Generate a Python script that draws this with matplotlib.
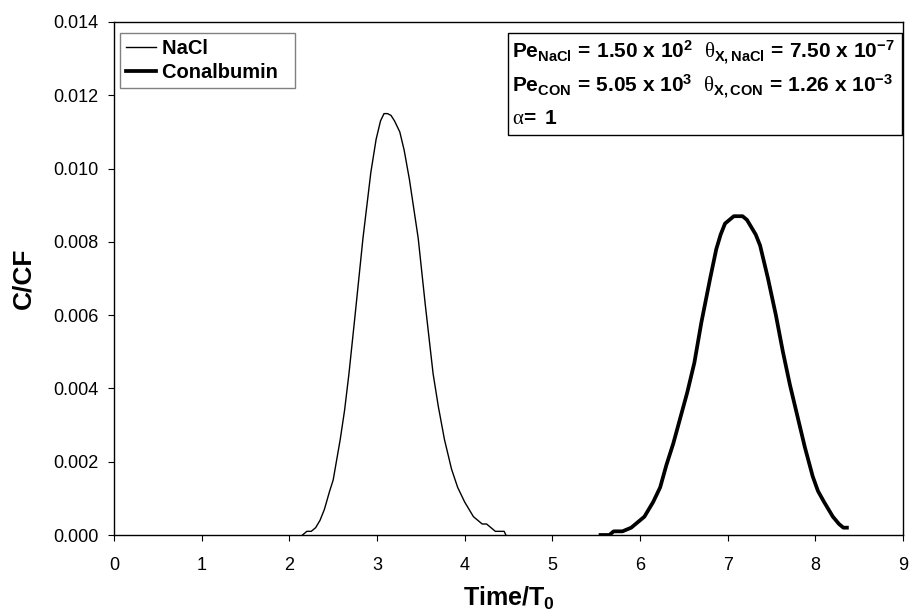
import matplotlib
matplotlib.use("Agg")
import matplotlib.pyplot as plt
from matplotlib.patches import Rectangle
from matplotlib.ticker import FormatStrFormatter, MultipleLocator

plt.rcParams['font.family'] = ['Liberation Sans', 'DejaVu Sans']
plt.rcParams['mathtext.fontset'] = 'custom'
plt.rcParams['mathtext.bf'] = 'Liberation Sans:bold'
plt.rcParams['mathtext.rm'] = 'Liberation Serif'
plt.rcParams['mathtext.it'] = 'Liberation Sans:italic'

# NaCl series
nacl_t = [2.15, 2.20, 2.25, 2.30, 2.35, 2.40, 2.46, 2.50, 2.58, 2.63, 2.68, 2.75,
          2.84, 2.93, 2.99, 3.04, 3.08, 3.12, 3.16, 3.20, 3.26, 3.31, 3.37, 3.42,
          3.47, 3.55, 3.64, 3.70, 3.77, 3.85, 3.92, 4.00, 4.05, 4.10, 4.15, 4.20,
          4.25, 4.30, 4.35, 4.40, 4.45, 4.47]
nacl_c = [0.0000, 0.0001, 0.0001, 0.0002, 0.0004, 0.0007, 0.0012, 0.0015, 0.0026, 0.0034,
          0.0044, 0.0060, 0.0081, 0.0099, 0.0108, 0.0113, 0.0115, 0.0115, 0.01145, 0.0113,
          0.0110, 0.0105, 0.0097, 0.0089, 0.0081, 0.0063, 0.0044, 0.0035, 0.0026, 0.0018,
          0.0013, 0.0009, 0.0007, 0.0005, 0.0004, 0.0003, 0.0003, 0.0002, 0.0001, 0.0001,
          0.0001, 0.0000]

# Conalbumin series
con_t = [5.55, 5.65, 5.70, 5.80, 5.90, 6.00, 6.05, 6.10, 6.15, 6.23, 6.30, 6.38,
         6.46, 6.54, 6.62, 6.70, 6.80, 6.87, 6.92, 6.97, 7.02, 7.07, 7.12, 7.17,
         7.22, 7.27, 7.32, 7.37, 7.46, 7.55, 7.63, 7.71, 7.79, 7.88, 7.97, 8.03,
         8.10, 8.20, 8.27, 8.32, 8.36]
con_c = [0.0000, 0.0000, 0.0001, 0.0001, 0.0002, 0.0004, 0.0005, 0.0007, 0.0009, 0.0013,
         0.0019, 0.0025, 0.0032, 0.0039, 0.0047, 0.0058, 0.0070, 0.0078, 0.0082, 0.0085,
         0.0086, 0.0087, 0.0087, 0.0087, 0.0086, 0.0084, 0.0082, 0.0079, 0.0070, 0.0060,
         0.0050, 0.0041, 0.0033, 0.0024, 0.0016, 0.0012, 0.0009, 0.0005, 0.0003, 0.0002,
         0.0002]

x_ticks = list(range(0, 10))

fig = plt.figure(figsize=(9.11, 6.15), dpi=100)
ax = fig.add_axes([114 / 911, 1 - 535 / 615, 789 / 911, 513 / 615])

ax.plot(nacl_t, nacl_c, color='black', linewidth=1.0, label='NaCl  ')
ax.plot(con_t, con_c, color='black', linewidth=2.7, label='Conalbumin  ')

ax.set_xlim(0, 9)
ax.set_ylim(0, 0.014)
ax.set_xticks(x_ticks)
ax.yaxis.set_major_locator(MultipleLocator(0.002))
ax.yaxis.set_major_formatter(FormatStrFormatter('%.3f'))
ax.tick_params(direction='out', length=4.5, width=0.8, labelsize=13, colors='black')
ax.tick_params(axis='x', pad=11)
ax.tick_params(axis='y', pad=6.5)
ax.tick_params(top=False, right=False)
for s in ax.spines.values():
    s.set_linewidth(1.0)
    s.set_color('black')

ax.set_xlabel(r'Time/T$_\mathbf{0}$', fontsize=18, fontweight='bold', labelpad=8)
ax.set_ylabel('C/CF', fontsize=19, fontweight='bold', labelpad=13)

leg = ax.legend(loc='upper left', bbox_to_anchor=(0.0076, 0.9786), fancybox=False,
                edgecolor='#808080', framealpha=1, borderaxespad=0,
                prop={'weight': 'bold', 'size': 14.5}, handlelength=1.5,
                handletextpad=0.3, borderpad=0.3, labelspacing=0.25)
leg.get_frame().set_linewidth(1.0)

# Parameter box
ax.add_patch(Rectangle((0.4994, 0.780), 0.4993, 0.9786 - 0.780, transform=ax.transAxes,
                       facecolor='white', edgecolor='black', linewidth=1.0, zorder=5))
lines = [
    r'$\mathbf{Pe_{NaCl}\,=\,1.50\ x\ 10^{2}}\ \ \mathrm{\theta}_\mathbf{X,NaCl}\mathbf{\,=\,7.50\ x\ 10^{-7}}$',
    r'$\mathbf{Pe_{CON}\,=\,5.05\ x\ 10^{3}}\ \ \mathrm{\theta}_\mathbf{X,CON}\mathbf{\,=\,1.26\ x\ 10^{-3}}$',
    r'$\mathrm{\alpha}\!\mathbf{=\ 1}$',
]
ys = [0.928, 0.862, 0.801]
for txt, yy in zip(lines, ys):
    ax.text(0.5045, yy, txt, transform=ax.transAxes, fontsize=15, va='baseline',
            ha='left', zorder=6)

fig.savefig('out.png', dpi=100)
